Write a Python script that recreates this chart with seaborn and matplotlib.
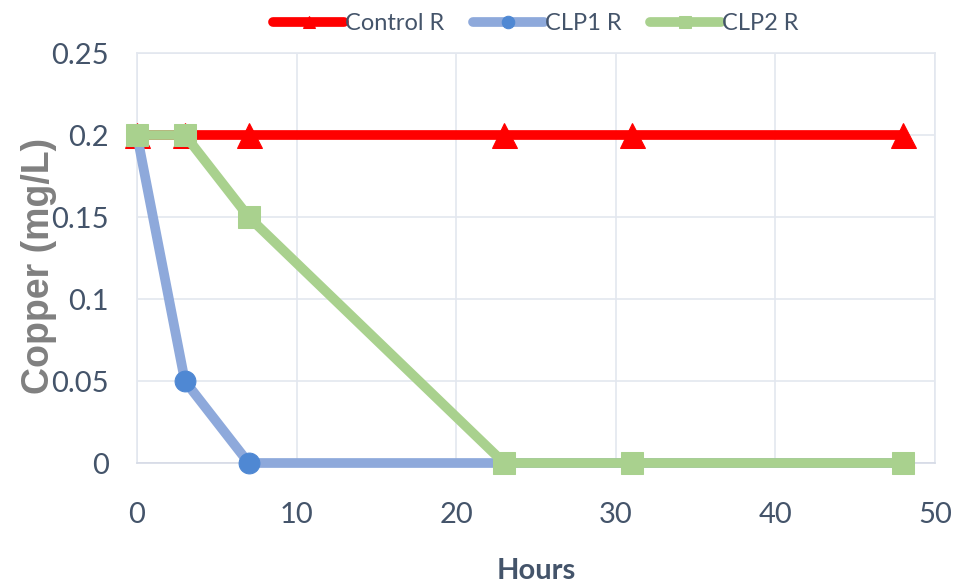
import pandas as pd
import numpy as np
import matplotlib.pyplot as plt
import seaborn as sns

# data
hours = [0, 3, 7, 23, 31, 48]
control_r = [0.2, 0.2, 0.2, 0.2, 0.2, 0.2]
clp1_r = [0.2, 0.05, 0.0, 0.0, 0.0, 0.0]
clp2_r = [0.2, 0.2, 0.15, 0.0, 0.0, 0.0]
series_names = ['Control R', 'CLP1 R', 'CLP2 R']
x_ticks = [0, 10, 20, 30, 40, 50]
y_ticks = [0, 0.05, 0.1, 0.15, 0.2, 0.25]
y_tick_labels = ['0', '0.05', '0.1', '0.15', '0.2', '0.25']

df = pd.DataFrame({'Hours': hours * 3,
                   'Copper': control_r + clp1_r + clp2_r,
                   'Series': np.repeat(series_names, len(hours))})

sns.set_style('white')
plt.rcParams['font.family'] = ['Lato', 'DejaVu Sans']

fig = plt.figure(figsize=(9.68, 5.86), dpi=100)
ax = fig.add_axes([137/968, 1 - 463/586, (935-137)/968, (463-53)/586])

styles = {
    'Control R': dict(color='#FF0000', marker='^', mfc='#FF0000', ms=18),
    'CLP1 R': dict(color='#8EA9DB', marker='o', mfc='#4F88D3', ms=15),
    'CLP2 R': dict(color='#A9D18E', marker='s', mfc='#A9D18E', ms=16),
}
for name in series_names:
    st = styles[name]
    sub = df[df['Series'] == name]
    sns.lineplot(data=sub, x='Hours', y='Copper', ax=ax, color=st['color'],
                 linewidth=7, marker=st['marker'], markersize=st['ms'],
                 markerfacecolor=st['mfc'], markeredgecolor=st['mfc'],
                 label=name, clip_on=False, zorder=3)

ax.set_xlim(0, 50)
ax.set_ylim(0, 0.25)
ax.set_xticks(x_ticks)
ax.set_yticks(y_ticks)
ax.set_yticklabels(y_tick_labels)
ax.grid(True, color='#E3E7EF', linewidth=1.2)
for s in ax.spines.values():
    s.set_color('#E3E7EF')
    s.set_linewidth(1.2)
ax.spines['bottom'].set_color('#D5DAE6')
ax.tick_params(axis='both', length=0, labelsize=21, labelcolor='#44546A')
ax.tick_params(axis='x', pad=28)
ax.tick_params(axis='y', pad=20)

ax.set_xlabel('Hours', fontsize=21, fontweight='bold', color='#44546A', labelpad=22)
ax.set_ylabel('Copper (mg/L)', fontsize=27, fontweight='bold', color='#808080',
              family=['Liberation Sans', 'DejaVu Sans'])
ax.yaxis.set_label_coords(-0.10, 0.48)

leg = ax.legend(loc='lower center', bbox_to_anchor=(0.5, 1.0), ncol=3, frameon=False,
                fontsize=17, handlelength=3.0, columnspacing=1.2, handletextpad=0.05,
                borderaxespad=0.4)
for t in leg.get_texts():
    t.set_color('#44546A')
for h in leg.legend_handles:
    h.set_markersize(9)

fig.savefig('out.png', dpi=100)
